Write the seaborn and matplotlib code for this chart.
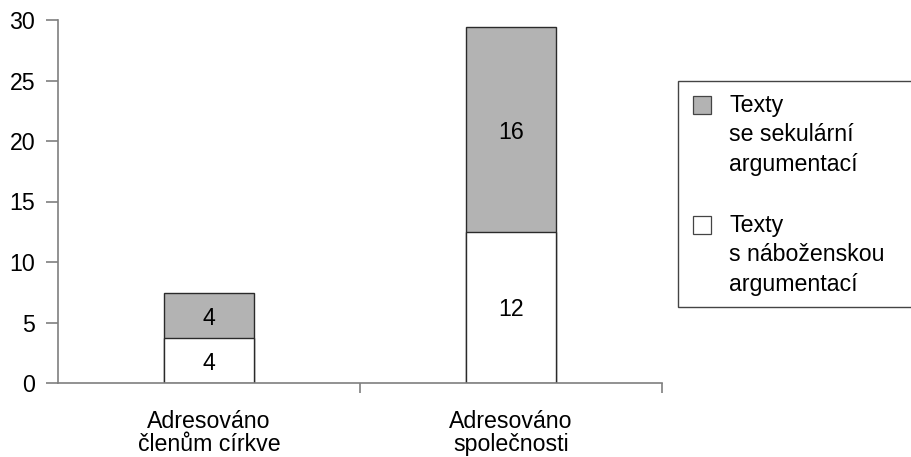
import pandas as pd
import matplotlib
matplotlib.use("Agg")
import matplotlib.pyplot as plt
import seaborn as sns
from matplotlib.patches import Rectangle

# values (bar heights) and the printed labels
categories = ["Adresováno\nčlenům církve", "Adresováno\nspolečnosti"]
religious = [3.7, 12.5]
secular = [3.75, 16.9]
religious_labels = ["4", "12"]
secular_labels = ["4", "16"]
series_names = ["Texty\nse sekulární\nargumentací", "Texty\ns náboženskou\nargumentací"]

sns.set_theme(style="white")
plt.rcParams["font.family"] = ["Liberation Sans", "DejaVu Sans"]

df = pd.DataFrame({
    "category": categories,
    "religious": religious,
    "total": [r + s for r, s in zip(religious, secular)],
})

GRAY = "#b3b3b3"
EDGE = "#2a2a2a"
AXIS = "#7f7f7f"
FS = 16.7
W, H = 911, 457

fig = plt.figure(figsize=(W / 100, H / 100), dpi=100)
ax = fig.add_axes([58 / W, 1 - 383 / H, (662 - 58) / W, (383 - 20) / H])

# stacked look: full totals in gray, then the bottom segment in white on top
sns.barplot(data=df, x="category", y="total", color=GRAY, saturation=1,
            width=0.3, edgecolor=EDGE, linewidth=1, ax=ax)
sns.barplot(data=df, x="category", y="religious", color="white", saturation=1,
            width=0.3, edgecolor=EDGE, linewidth=1, ax=ax)

for i in range(len(categories)):
    ax.text(i, religious[i] / 2, religious_labels[i], ha="center",
            va="center_baseline", fontsize=FS, color="black")
    ax.text(i, religious[i] + secular[i] / 2, secular_labels[i], ha="center",
            va="center_baseline", fontsize=FS, color="black")

ax.set_xlim(-0.5, 1.5)
ax.set_ylim(0, 30)
ax.set_yticks(range(0, 31, 5))
ax.set_xlabel("")
ax.set_ylabel("")

for side in ["top", "right"]:
    ax.spines[side].set_visible(False)
for side in ["left", "bottom"]:
    ax.spines[side].set_color(AXIS)
    ax.spines[side].set_linewidth(1.2)

ax.tick_params(axis="y", which="major", left=True, length=8.5, width=1.2,
               color=AXIS, pad=8, labelsize=FS, labelcolor="black")
ax.set_xticks([0, 1])
ax.set_xticklabels(categories)
ax.set_xticks([0.5, 1.5], minor=True)
ax.tick_params(axis="x", which="major", bottom=False, length=0, pad=19.5,
               labelsize=FS, labelcolor="black")
ax.tick_params(axis="x", which="minor", bottom=True, length=7.5, width=1.2,
               color=AXIS)
for t in ax.get_xticklabels():
    t.set_linespacing(1.02)


# legend box drawn by hand, its right edge runs off the canvas as in the source
def px(x, y):
    return x / W, 1 - y / H


frame_x, frame_y = px(678, 306.5)
fig.patches.append(Rectangle((frame_x, frame_y), (930 - 678) / W, (306.5 - 81) / H,
                             transform=fig.transFigure, facecolor="white",
                             edgecolor="#444444", linewidth=1.0, clip_on=False))
swatches = [GRAY, "white"]
for k, (name, colour) in enumerate(zip(series_names, swatches)):
    top = 111.7 + k * 120
    sx, sy = px(693, top + 2)
    fig.patches.append(Rectangle((sx, sy), 18 / W, 17.5 / H,
                                 transform=fig.transFigure, facecolor=colour,
                                 edgecolor="#444444", linewidth=0.9))
    for j, line in enumerate(name.split("\n")):
        tx, ty = px(729, top + j * 29.5)
        fig.text(tx, ty, line, fontsize=FS, va="baseline", ha="left",
                 color="black")

fig.savefig("out.png", dpi=100)
